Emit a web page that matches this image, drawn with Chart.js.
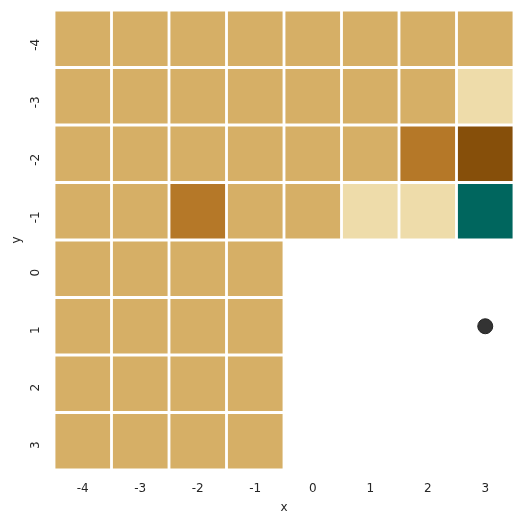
<!DOCTYPE html>
<html>
<head>
<meta charset="utf-8">
<script src="https://cdn.jsdelivr.net/npm/chart.js@4/dist/chart.umd.min.js"></script>
<style>
  html, body { margin: 0; padding: 0; background: #fff; }
  #wrap { width: 525px; height: 525px; }
</style>
</head>
<body>
<div id="wrap"><canvas id="heat"></canvas></div>
<script>
// x and y categories
const xLabels = ["-4", "-3", "-2", "-1", "0", "1", "2", "3"];
const yRows = [-4, -3, -2, -1, 0, 1, 2, 3];

// cell values, one array per row (null = no cell)
const rowM4 = [3, 3, 3, 3, 3, 3, 3, 3];
const rowM3 = [3, 3, 3, 3, 3, 3, 3, 4];
const rowM2 = [3, 3, 3, 3, 3, 3, 2, 1];
const rowM1 = [3, 3, 2, 3, 3, 4, 4, 8];
const row0 = [3, 3, 3, 3, null, null, null, null];
const row1 = [3, 3, 3, 3, null, null, null, null];
const row2 = [3, 3, 3, 3, null, null, null, null];
const row3 = [3, 3, 3, 3, null, null, null, null];
const rows = [rowM4, rowM3, rowM2, rowM1, row0, row1, row2, row3];

// marker point
const markX = ["3"];
const markY = [1];

// colour for a value (BrBG-like)
function cellColor(v) {
  if (v === null) return "rgba(0,0,0,0)";
  if (v <= 1) return "#864f0a";
  if (v <= 2) return "#b57828";
  if (v <= 3) return "#d6af66";
  if (v <= 4) return "#eedcaa";
  return "#00665e";
}

const datasets = rows.map((vals, i) => ({
  type: "bar",
  label: "y=" + yRows[i],
  data: vals.map(v => v === null ? null : [yRows[i] - 0.5, yRows[i] + 0.5]),
  backgroundColor: vals.map(cellColor),
  borderColor: "#ffffff",
  borderWidth: 1.75,
  borderSkipped: false,
  categoryPercentage: 1,
  barPercentage: 1,
  grouped: false,
  order: 2
}));

datasets.push({
  type: "scatter",
  label: "mark",
  data: markX.map((x, i) => ({ x: x, y: markY[i] })),
  pointRadius: 7.5,
  pointHoverRadius: 7.5,
  backgroundColor: "#333333",
  borderColor: "#222222",
  borderWidth: 1,
  order: 1
});

const font = { family: "DejaVu Sans", size: 12 };

new Chart(document.getElementById("heat"), {
  type: "bar",
  data: { labels: xLabels, datasets: datasets },
  options: {
    responsive: true,
    maintainAspectRatio: false,
    animation: false,
    layout: { padding: { top: 10, right: 11, left: 10, bottom: 10 } },
    plugins: { legend: { display: false }, tooltip: { enabled: false } },
    scales: {
      x: {
        type: "category",
        offset: true,
        grid: { display: false, drawTicks: false },
        border: { display: false },
        ticks: { color: "#262626", font: font, padding: 12 },
        title: { display: true, text: "x", color: "#262626", font: font, padding: { top: 4, bottom: 0 } },
        afterFit: s => { s.height = 45; s.paddingLeft = 0; s.paddingRight = 0; }
      },
      y: {
        type: "linear",
        reverse: true,
        min: -4.5,
        max: 3.5,
        grid: { display: false, drawTicks: false },
        border: { display: false },
        afterBuildTicks: s => { s.ticks = yRows.map(v => ({ value: v })); },
        ticks: { color: "#262626", font: font, padding: 18, minRotation: 90, maxRotation: 90 },
        title: { display: true, text: "y", color: "#262626", font: font, padding: { top: 0, bottom: 4 } },
        afterFit: s => { s.width = 44; s.paddingTop = 0; s.paddingBottom = 0; }
      }
    }
  }
});
</script>
</body>
</html>
